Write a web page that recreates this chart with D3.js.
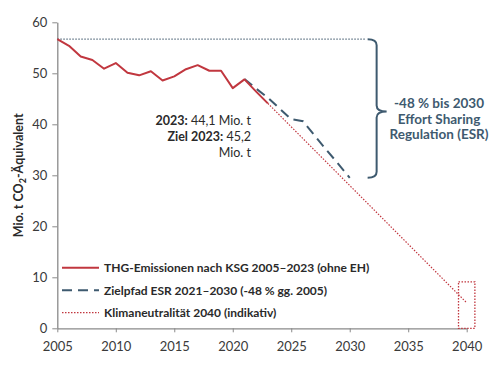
<!DOCTYPE html>
<html><head><meta charset="utf-8">
<script src="https://cdn.jsdelivr.net/npm/d3@7"></script>
<style>body{margin:0;background:#fff}svg{display:block;font-family:Lato,"Open Sans",sans-serif}</style>
</head><body><svg id="c" width="500" height="365"></svg>
<script>
const years = [2005,2006,2007,2008,2009,2010,2011,2012,2013,2014,2015,2016,2017,2018,2019,2020,2021,2022,2023];
const emissions = [56.7,55.4,53.3,52.6,50.9,52.0,50.1,49.6,50.4,48.6,49.4,50.8,51.6,50.5,50.5,47.1,48.8,46.4,44.1];
const esrYears = [2021,2022,2023,2024,2025,2026,2027,2028,2029,2030];
const esrValues = [48.9,47.0,45.2,43.1,41.0,40.6,37.8,35.0,32.3,29.5];
const neutralYears = [2023,2040];
const neutralValues = [44.1,5.0];
const baseValue = 56.7;
const targetValue = 29.5;
const xTicks = [2005,2010,2015,2020,2025,2030,2035,2040];
const yTicks = [0,10,20,30,40,50,60];
const legendLabels = ["THG-Emissionen nach KSG 2005\u20132023 (ohne EH)","Zielpfad ESR 2021\u20132030 (-48 % gg. 2005)","Klimaneutralit\u00e4t 2040 (indikativ)"];
const esrText = ["-48 % bis 2030","Effort Sharing","Regulation (ESR)"];

const RED="#c1373f", SLATE="#3e5a6f", GRAY="#5d7283", TXT="#2a2a2a";
const svg=d3.select("#c");
const x=d3.scaleLinear().domain([2005,2040]).range([57.3,466.7]);
const y=d3.scaleLinear().domain([0,60]).range([328.3,22.3]);

// axes
const xa=svg.append("g").attr("transform",`translate(0,${y(0)})`).call(d3.axisBottom(x).tickValues(xTicks).tickFormat(d3.format("d")).tickSize(4).tickSizeOuter(0));
const ya=svg.append("g").attr("transform",`translate(${x(2005)},0)`).call(d3.axisLeft(y).tickValues(yTicks).tickSize(5).tickSizeOuter(0));
[xa,ya].forEach(a=>{a.select(".domain").attr("stroke","#8a8a8a").attr("stroke-width",1.3);
 a.selectAll(".tick line").attr("stroke","#8a8a8a");
 a.selectAll("text").attr("fill","#3a3a3a").style("font-size","13px").style("font-family","Lato");});
xa.selectAll("text").attr("dy","1.2em");
ya.selectAll("text").attr("x",-10);

svg.append("text").attr("transform",`translate(23,${(y(0)+y(60))/2}) rotate(-90)`).attr("text-anchor","middle")
 .attr("fill",TXT).style("font-size","12.5px").style("font-weight","700")
 .html('Mio. t CO<tspan dy="3" font-size="9">2</tspan><tspan dy="-3">-\u00c4quivalent</tspan>');

// baseline dotted
svg.append("line").attr("x1",x(2005)).attr("x2",x(2031.4)).attr("y1",y(baseValue)).attr("y2",y(baseValue))
 .attr("stroke",GRAY).attr("stroke-width",1.3).attr("stroke-dasharray","1.5,1.5");

// neutral path
const line=d3.line().x(d=>x(d[0])).y(d=>y(d[1]));
svg.append("path").attr("d",line(neutralYears.map((d,i)=>[d,neutralValues[i]]))).attr("fill","none")
 .attr("stroke",RED).attr("stroke-width",1.2).attr("stroke-dasharray","1.5,1.5");
// ESR path
svg.append("path").attr("d",line(esrYears.map((d,i)=>[d,esrValues[i]]))).attr("fill","none")
 .attr("stroke",SLATE).attr("stroke-width",2).attr("stroke-dasharray","10,6");
// emissions
svg.append("path").attr("d",line(years.map((d,i)=>[d,emissions[i]]))).attr("fill","none")
 .attr("stroke",RED).attr("stroke-width",2).attr("stroke-linejoin","round");

// 2040 rectangle
svg.append("rect").attr("x",x(2039.3)).attr("y",y(9.1)).attr("width",x(2040.7)-x(2039.3)).attr("height",y(0)-y(9.1))
 .attr("fill","none").attr("stroke",RED).attr("stroke-width",1.3).attr("stroke-dasharray","1.5,1.5");

// brace
const bx=x(2032.3), yt=y(baseValue), yb=y(targetValue), ym=(yt+yb)/2+3;
svg.append("path").attr("fill","none").attr("stroke",SLATE).attr("stroke-width",2)
 .attr("d",`M${bx-9},${yt} Q${bx},${yt} ${bx},${yt+6} L${bx},${ym-6} Q${bx},${ym} ${bx+10},${ym} Q${bx},${ym} ${bx},${ym+6} L${bx},${yb-6} Q${bx},${yb} ${bx-9},${yb}`);

const et=svg.append("text").attr("text-anchor","middle").attr("fill",SLATE).style("font-size","13.5px").style("font-weight","700");
esrText.forEach((t,i)=>et.append("tspan").attr("x",439).attr("y",108+i*15.5).text(t));

// annotation
const an=svg.append("text").attr("text-anchor","end").attr("fill",TXT).style("font-size","12.5px");
const l1=an.append("tspan").attr("x",251).attr("y",125);
l1.append("tspan").style("font-weight","700").text("2023:"); l1.append("tspan").text(" 44,1 Mio. t");
const l2=an.append("tspan").attr("x",251).attr("y",141);
l2.append("tspan").style("font-weight","700").text("Ziel 2023:"); l2.append("tspan").text(" 45,2");
an.append("tspan").attr("x",251).attr("y",157).text("Mio. t");

// legend
const styles=[{c:RED,w:2,d:null},{c:SLATE,w:2,d:"10,6"},{c:RED,w:1.2,d:"1.5,1.5"}];
legendLabels.forEach((t,i)=>{
 const ly=267.7+i*22.5;
 svg.append("line").attr("x1",62).attr("x2",99).attr("y1",ly).attr("y2",ly).attr("stroke",styles[i].c)
  .attr("stroke-width",styles[i].w).attr("stroke-dasharray",styles[i].d);
 svg.append("text").attr("x",104).attr("y",ly+4.5).attr("fill",TXT).style("font-size","12px").style("font-weight","700").text(t);
});
</script></body></html>
